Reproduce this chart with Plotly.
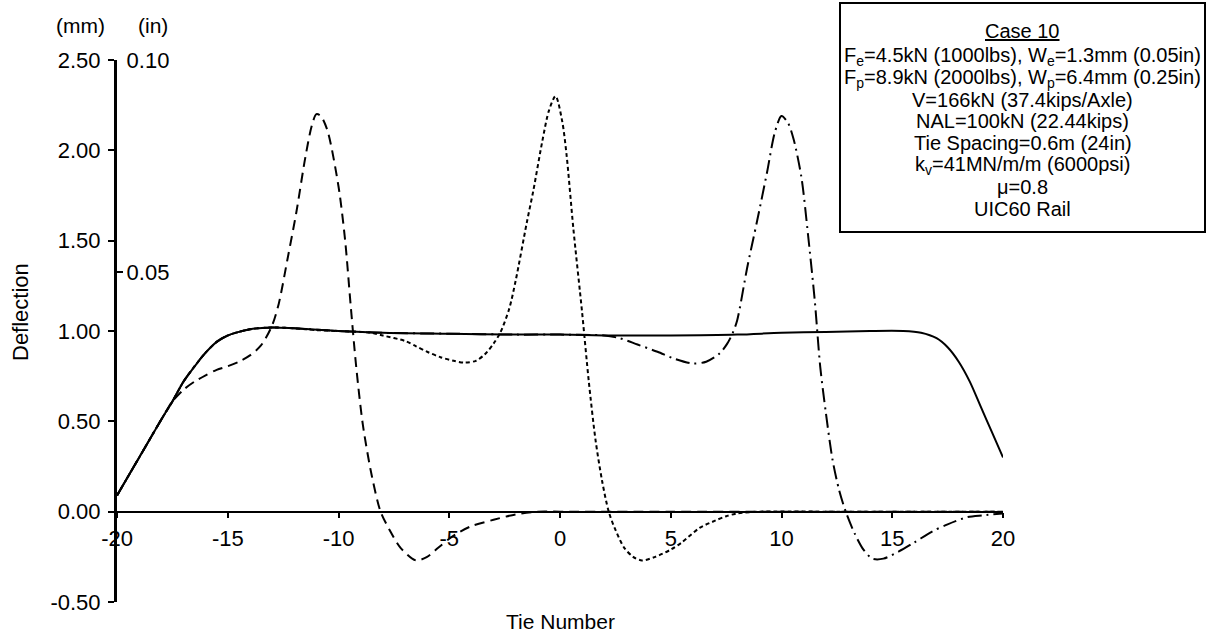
import plotly.graph_objects as go

# ---------------- data: rail deflection (mm) along the track ----------------
tie_solid = [-20, -19, -18, -17.5, -17, -16.4, -16, -15.5, -15, -14.5, -14, -13, -12, -10,
             -8, -5, -2, 0, 2, 5, 8, 10, 12, 14, 15.5, 16.3, 17, 17.5, 18, 18.5, 19, 19.5, 20]
defl_solid = [0.09, 0.30, 0.51, 0.61, 0.72, 0.82, 0.88, 0.94, 0.975, 0.995, 1.01, 1.02, 1.015, 1.0,
              0.99, 0.985, 0.98, 0.98, 0.975, 0.975, 0.98, 0.99, 0.995, 1.0, 1.0, 0.99, 0.96, 0.91,
              0.83, 0.72, 0.58, 0.44, 0.30]

tie_dashed = [-20, -19, -18, -17.5, -17, -16.5, -16, -15.5, -15, -14.5, -14, -13.5, -13, -12.7,
              -12.3, -11.9, -11.5, -11.2, -11, -10.8, -10.5, -10, -9.7, -9.45, -9.2, -8.9, -8.5,
              -8.1, -7.7, -7.2, -6.5, -6, -5.5, -5, -4.5, -4, -3, -2, -1, 0, 5, 10, 15, 20]
defl_dashed = [0.09, 0.30, 0.51, 0.61, 0.675, 0.72, 0.755, 0.785, 0.805, 0.83, 0.865, 0.92, 1.03,
               1.15, 1.40, 1.66, 1.96, 2.14, 2.20, 2.19, 2.11, 1.80, 1.50, 1.14, 0.80, 0.48, 0.20,
               0.0, -0.10, -0.20, -0.27, -0.25, -0.20, -0.15, -0.11, -0.08, -0.045, -0.015, 0.0,
               0.0, 0.0, 0.0, 0.0, 0.0]

tie_dotted = [-20, -19, -18, -17.5, -17, -16.4, -16, -15.5, -15, -14.5, -14, -13, -12, -11, -10,
              -9, -8.5, -8, -7, -6.5, -6, -5.4, -4.8, -4.3, -3.8, -3.4, -3, -2.7, -2.3, -2, -1.5,
              -1.2, -0.8, -0.5, -0.2, 0.1, 0.3, 0.6, 1.0, 1.3, 1.6, 1.9, 2.2, 2.5, 2.9, 3.3, 3.7,
              4.3, 5, 5.5, 6.3, 7, 7.5, 8, 9, 12, 16, 20]
defl_dotted = [0.09, 0.30, 0.51, 0.61, 0.72, 0.82, 0.88, 0.94, 0.975, 0.995, 1.01, 1.02, 1.015,
               1.005, 1.0, 0.995, 0.99, 0.975, 0.945, 0.915, 0.885, 0.855, 0.835, 0.825, 0.835,
               0.87, 0.93, 0.99, 1.12, 1.28, 1.60, 1.78, 2.05, 2.22, 2.30, 2.16, 1.97, 1.57, 1.10,
               0.72, 0.40, 0.17, 0.0, -0.10, -0.20, -0.25, -0.27, -0.25, -0.21, -0.17, -0.09,
               -0.05, -0.025, -0.01, 0.0, 0.0, 0.0, 0.0]

tie_dashdot = [-20, -19, -18, -17.5, -17, -16.4, -16, -15.5, -15, -14.5, -14, -13, -12, -10, -8,
               -5, -2, 0, 2, 2.7, 3.5, 4.4, 5.2, 6, 6.6, 7.2, 7.55, 7.8, 8.0, 8.45, 8.9, 9.35, 9.7,
               10.0, 10.3, 10.55, 10.9, 11.2, 11.5, 11.75, 12.0, 12.3, 12.6, 12.9, 13.3, 13.7,
               14.1, 14.6, 15.3, 16, 16.8, 17.5, 18.4, 19.1, 20]
defl_dashdot = [0.09, 0.30, 0.51, 0.61, 0.72, 0.82, 0.88, 0.94, 0.975, 0.995, 1.01, 1.02, 1.015,
                1.0, 0.99, 0.985, 0.98, 0.98, 0.975, 0.96, 0.925, 0.885, 0.845, 0.82, 0.83, 0.875,
                0.93, 0.99, 1.06, 1.35, 1.61, 1.88, 2.10, 2.19, 2.15, 2.06, 1.85, 1.53, 1.17, 0.80,
                0.55, 0.29, 0.12, 0.0, -0.12, -0.21, -0.26, -0.26, -0.22, -0.17, -0.11, -0.07,
                -0.03, -0.02, -0.01]

x_tick_vals = [-20, -15, -10, -5, 0, 5, 10, 15, 20]
x_tick_text = ["-20", "-15", "-10", "-5", "0", "5", "10", "15", "20"]
y_tick_vals = [-0.5, 0.0, 0.5, 1.0, 1.5, 2.0, 2.5]
y_tick_text = ["-0.50", "0.00", "0.50", "1.00", "1.50", "2.00", "2.50"]
in_tick_vals = [0.05, 0.10]
in_tick_text = ["0.05", "0.10"]

case_lines = [
    "<u>Case 10</u>",
    "F<sub>e</sub>=4.5kN (1000lbs), W<sub>e</sub>=1.3mm (0.05in)",
    "F<sub>p</sub>=8.9kN (2000lbs), W<sub>p</sub>=6.4mm (0.25in)",
    "V=166kN (37.4kips/Axle)",
    "NAL=100kN (22.44kips)",
    "Tie Spacing=0.6m (24in)",
    "k<sub>v</sub>=41MN/m/m (6000psi)",
    "\u03bc=0.8",
    "UIC60 Rail",
]

# ---------------- layout geometry (pixels) ----------------
W, H = 1208, 641
L, R, T, B = 117, 205, 60, 39
PW, PH = W - L - R, H - T - B
FONT = "Liberation Sans, Arial, Helvetica, sans-serif"
TICK_FONT = dict(family=FONT, size=22, color="black")


def px(x):
    return (x - L) / PW


def py(y):
    return (H - B - y) / PH


fig = go.Figure()

line_w = 2
series = [
    (tie_solid, defl_solid, "solid", "Envelope"),
    (tie_dashed, defl_dashed, "10px,6px", "Load at tie -11"),
    (tie_dotted, defl_dotted, "4px,3px", "Load at tie 0"),
    (tie_dashdot, defl_dashdot, "14px,5px,2px,5px", "Load at tie 10"),
]
for xs, ys, dash, name in series:
    fig.add_trace(go.Scatter(
        x=xs, y=ys, mode="lines", name=name, showlegend=False,
        line=dict(color="black", width=line_w, dash=dash, shape="spline", smoothing=0.8),
    ))

# invisible trace to activate the inch axis
fig.add_trace(go.Scatter(x=[0], y=[0.0], yaxis="y2", mode="markers",
                         marker=dict(opacity=0), showlegend=False, hoverinfo="skip"))

y_lo, y_hi = -0.5, 2.5
fig.update_layout(
    width=W, height=H,
    margin=dict(l=L, r=R, t=T, b=B, pad=0),
    paper_bgcolor="white", plot_bgcolor="white",
    font=dict(family=FONT, size=20, color="black"),
    xaxis=dict(
        range=[-20.001, 20], anchor="free", position=(0 - y_lo) / (y_hi - y_lo),
        showgrid=False, zeroline=False,
        showline=True, linecolor="black", linewidth=2,
        ticks="outside", ticklen=5, tickwidth=1.5, tickcolor="black",
        tickvals=x_tick_vals, ticktext=x_tick_text,
        ticklabelstandoff=2, ticklabeloverflow="allow",
        tickfont=TICK_FONT,
    ),
    yaxis=dict(
        range=[y_lo, y_hi], domain=[0, 1],
        showgrid=False, zeroline=False,
        showline=True, linecolor="black", linewidth=3,
        ticks="outside", ticklen=6, tickwidth=2, tickcolor="black",
        tickvals=y_tick_vals, ticktext=y_tick_text,
        ticklabelstandoff=3,
        tickfont=TICK_FONT,
    ),
    yaxis2=dict(
        overlaying="y", side="left", anchor="x",
        range=[-0.0279, 0.10],
        showgrid=False, zeroline=False, showline=False,
        ticks="inside", ticklen=6, tickwidth=2, tickcolor="black",
        ticklabelposition="inside", ticklabeloverflow="allow",
        tickvals=in_tick_vals, ticktext=in_tick_text,
        ticklabelstandoff=5,
        tickfont=TICK_FONT,
    ),
)

ann = []
ann.append(dict(text="(mm)", x=px(80), y=py(25), font=dict(size=21)))
ann.append(dict(text="(in)", x=px(153), y=py(25), font=dict(size=21)))
ann.append(dict(text="Tie Number", x=px(560), y=py(621), font=dict(size=21)))
ann.append(dict(text="Deflection", x=px(20), y=py(312), textangle=-90, font=dict(size=22)))

# parameter box text
box_x0, box_x1, box_y0, box_y1 = 840, 1205, 3, 232
cx = (box_x0 + box_x1) / 2
line_y = [31, 56, 78, 100, 121, 143, 165, 187, 209]
for txt, yy in zip(case_lines, line_y):
    ann.append(dict(text=txt, x=px(cx), y=py(yy), font=dict(size=20)))

for a in ann:
    a["font"].setdefault("family", FONT)
    a["font"].setdefault("color", "black")
    a.update(xref="paper", yref="paper", showarrow=False,
             xanchor="center", yanchor="middle")
fig.update_layout(annotations=ann)

fig.add_shape(type="rect", xref="paper", yref="paper",
              x0=px(box_x0), x1=px(box_x1), y0=py(box_y1), y1=py(box_y0),
              line=dict(color="black", width=2), fillcolor="rgba(0,0,0,0)")

fig.write_html("out.html")
